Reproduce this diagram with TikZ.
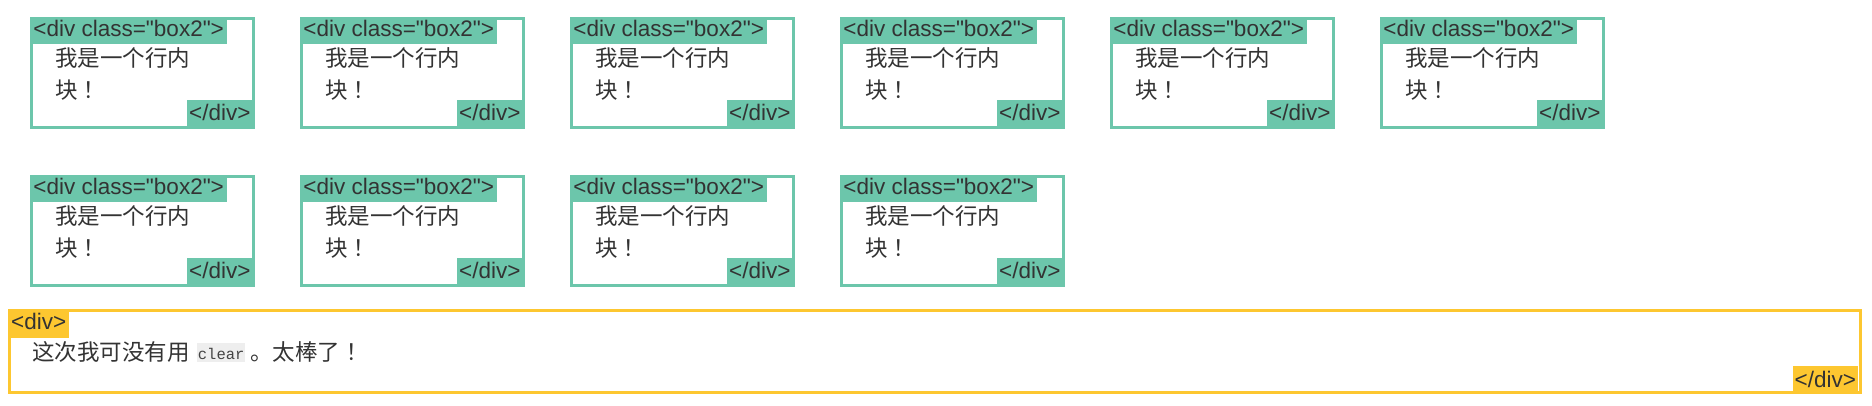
\documentclass[tikz,border=0pt]{standalone}
\usepackage{fontspec}
\setmainfont{Liberation Sans}[Ligatures=TeXOff]
\newfontfamily\cjk{Noto Sans CJK SC}
\newfontfamily\cjktc{Noto Sans CJK TC}
\newfontfamily\codefont{Liberation Mono}
\definecolor{grn}{HTML}{6CC6AB}
\definecolor{ylw}{HTML}{FDC730}
\definecolor{txt}{HTML}{333333}
\definecolor{codetxt}{HTML}{444444}
\definecolor{codebg}{HTML}{EEEEEE}
\newcommand\excl{{\cjktc ！}}
\tikzset{
  tagbox/.style={inner sep=0pt, text=txt, font=\fontsize{22.5}{27}\selectfont},
  cjktext/.style={inner sep=0pt, text=txt, anchor=base west, font=\fontsize{22.5}{32}\selectfont\cjk},
  gborder/.style={draw=grn, line width=3pt},
  yborder/.style={draw=ylw, line width=3pt},
}
\newcommand\gbox[3]{%
  \begin{scope}[shift={(#2,#3)}]
    \draw[gborder] (1.5,1.5) rectangle (223.5,110.5);
    \node[tagbox, fill=grn, anchor=north west, minimum width=197pt, text height=20pt, text depth=7pt] (#1o) at (0,0) {<div class="box2">};
    \node[tagbox, fill=grn, anchor=north east, minimum width=66pt, text height=21pt, text depth=6pt] (#1c) at (223,83) {</div>};
    \node[cjktext] (#1a) at (25,49.5) {我是一个行内};
    \node[cjktext] (#1b) at (25,81.5) {块\excl};
  \end{scope}}
\begin{document}
\begin{tikzpicture}[x=1pt,y=-1pt]
\useasboundingbox[fill=white] (0,0) rectangle (1872,406);
\gbox{a}{30}{16.7}
\gbox{b}{300}{16.7}
\gbox{c}{570}{16.7}
\gbox{d}{840}{16.7}
\gbox{e}{1110}{16.7}
\gbox{f}{1380}{16.7}
\gbox{g}{30}{174.7}
\gbox{h}{300}{174.7}
\gbox{i}{570}{174.7}
\gbox{j}{840}{174.7}
% yellow outer div
\draw[yborder] (9.5,310.5) rectangle (1860.5,392.5);
\node[tagbox, fill=ylw, anchor=north west, minimum width=61pt, text height=20pt, text depth=9pt] (yo) at (8,309) {<div>};
\node[tagbox, fill=ylw, anchor=north east, minimum width=65pt, text height=21pt, text depth=4pt] (yc) at (1858,366) {</div>};
\node[cjktext] (t1) at (32,360.5) {这次我可没有用};
\node[inner sep=0pt, fill=codebg, text=codetxt, anchor=north west, minimum width=48pt, text height=16pt, text depth=3pt, font=\fontsize{15.5}{16}\codefont] (code) at (197,343) {clear};
\node[cjktext] (t2) at (250,360.5) {。太棒了\excl};
\end{tikzpicture}
\end{document}
